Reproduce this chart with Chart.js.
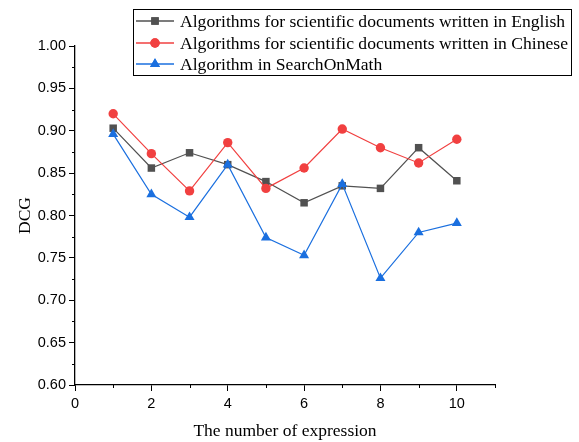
<!DOCTYPE html>
<html>
<head>
<meta charset="utf-8">
<script src="https://cdn.jsdelivr.net/npm/chart.js@4.4.0/dist/chart.umd.min.js"></script>
<style>
html,body{margin:0;padding:0;background:#fff;}
#wrap{width:579px;height:442px;}
</style>
</head>
<body>
<div id="wrap"><canvas id="c" width="579" height="442"></canvas></div>
<script>
const expressions = [1, 2, 3, 4, 5, 6, 7, 8, 9, 10];
const english = [0.903, 0.856, 0.874, 0.860, 0.840, 0.815, 0.835, 0.832, 0.880, 0.841];
const chinese = [0.920, 0.873, 0.829, 0.886, 0.832, 0.856, 0.902, 0.880, 0.862, 0.890];
const searchOnMath = [0.896, 0.825, 0.798, 0.860, 0.774, 0.753, 0.837, 0.726, 0.780, 0.791];
const seriesNames = [
  'Algorithms for scientific documents written in English',
  'Algorithms for scientific documents written in Chinese',
  'Algorithm in SearchOnMath'
];
const xTitle = 'The number of expression';
const yTitle = 'DCG';

const colors = ['#515151', '#F14040', '#1A6FDF'];
const shapes = ['rect', 'circle', 'triangle'];
const radii = [5.3, 4.7, 5.8];

function pts(arr){ return arr.map((v,i)=>({x: expressions[i], y: v})); }

const minorTicks = {
  id: 'minorTicks',
  afterDraw(chart){
    const ctx = chart.ctx;
    const xs = chart.scales.x, ys = chart.scales.y;
    ctx.save();
    ctx.strokeStyle = '#000';
    ctx.lineWidth = 1;
    ctx.beginPath();
    for (let v = 1; v <= 11; v += 2) {
      const px = Math.round(xs.getPixelForValue(v)) + 0.5;
      ctx.moveTo(px, xs.top); ctx.lineTo(px, xs.top + 3);
    }
    for (let k = 0; k < 8; k++) {
      const v = 0.625 + k * 0.05;
      const py = Math.round(ys.getPixelForValue(v)) + 0.5;
      ctx.moveTo(ys.right, py); ctx.lineTo(ys.right - 3, py);
    }
    ctx.stroke();
    ctx.restore();
  }
};

const legendBox = {
  id: 'legendBox',
  afterDraw(chart){
    const ctx = chart.ctx;
    const x0 = 133.5, y0 = 9.5, w = 438, h = 66;
    ctx.save();
    ctx.fillStyle = '#fff';
    ctx.fillRect(x0, y0, w, h);
    ctx.strokeStyle = '#000';
    ctx.lineWidth = 1;
    ctx.strokeRect(x0, y0, w, h);
    const rows = [21, 43, 64];
    chart.data.datasets.forEach((ds, i) => {
      const y = rows[i];
      ctx.strokeStyle = ds.borderColor;
      ctx.lineWidth = 1.3;
      ctx.beginPath();
      ctx.moveTo(136, y); ctx.lineTo(174, y);
      ctx.stroke();
      ctx.fillStyle = ds.backgroundColor;
      ctx.beginPath();
      Chart.helpers.drawPoint(ctx, {pointStyle: ds.pointStyle, radius: ds.pointRadius, borderWidth: 0}, 155, y);
      ctx.fill();
      ctx.fillStyle = '#000';
      ctx.font = '17.6px "Liberation Serif", "Times New Roman", serif';
      ctx.textBaseline = 'middle';
      ctx.textAlign = 'left';
      ctx.fillText(ds.label, 180, y + 1);
    });
    ctx.restore();
  }
};

const datasets = [english, chinese, searchOnMath].map((arr, i) => ({
  label: seriesNames[i],
  data: pts(arr),
  borderColor: colors[i],
  backgroundColor: colors[i],
  pointBackgroundColor: colors[i],
  pointBorderColor: colors[i],
  pointBorderWidth: 0,
  pointStyle: shapes[i],
  pointRadius: radii[i],
  pointHoverRadius: radii[i],
  borderWidth: 1.2,
  tension: 0,
  fill: false,
  order: 3 - i
}));

new Chart(document.getElementById('c'), {
  type: 'line',
  data: { datasets },
  options: {
    responsive: false,
    animation: false,
    events: [],
    layout: { padding: { top: 46, right: 84, bottom: 0, left: 0 } },
    plugins: { legend: { display: false }, tooltip: { enabled: false } },
    scales: {
      x: {
        type: 'linear',
        min: 0, max: 11,
        afterFit(s){ s.height = 57; },
        ticks: {
          stepSize: 2,
          includeBounds: false,
          color: '#000',
          padding: 4,
          font: { family: '"Liberation Sans", Arial, sans-serif', size: 14.5 },
          callback: v => String(v)
        },
        grid: { drawOnChartArea: false, drawTicks: true, tickLength: 6, tickColor: '#000', tickWidth: 1 },
        border: { display: true, color: '#000', width: 1.3 },
        title: {
          display: true, text: xTitle, color: '#000',
          font: { family: '"Liberation Serif", "Times New Roman", serif', size: 17.5 },
          padding: { top: 8, bottom: 0 }
        }
      },
      y: {
        type: 'linear',
        min: 0.6, max: 1.0,
        afterFit(s){ s.width = 75; },
        ticks: {
          stepSize: 0.05,
          color: '#000',
          padding: 3,
          font: { family: '"Liberation Sans", Arial, sans-serif', size: 14.5 },
          callback: v => Number(v).toFixed(2)
        },
        grid: { drawOnChartArea: false, drawTicks: true, tickLength: 6, tickColor: '#000', tickWidth: 1 },
        border: { display: true, color: '#000', width: 1.3 },
        title: {
          display: true, text: yTitle, color: '#000',
          font: { family: '"Liberation Serif", "Times New Roman", serif', size: 17.5 },
          padding: { top: 15, bottom: 0 }
        }
      }
    }
  },
  plugins: [minorTicks, legendBox]
});
</script>
</body>
</html>
